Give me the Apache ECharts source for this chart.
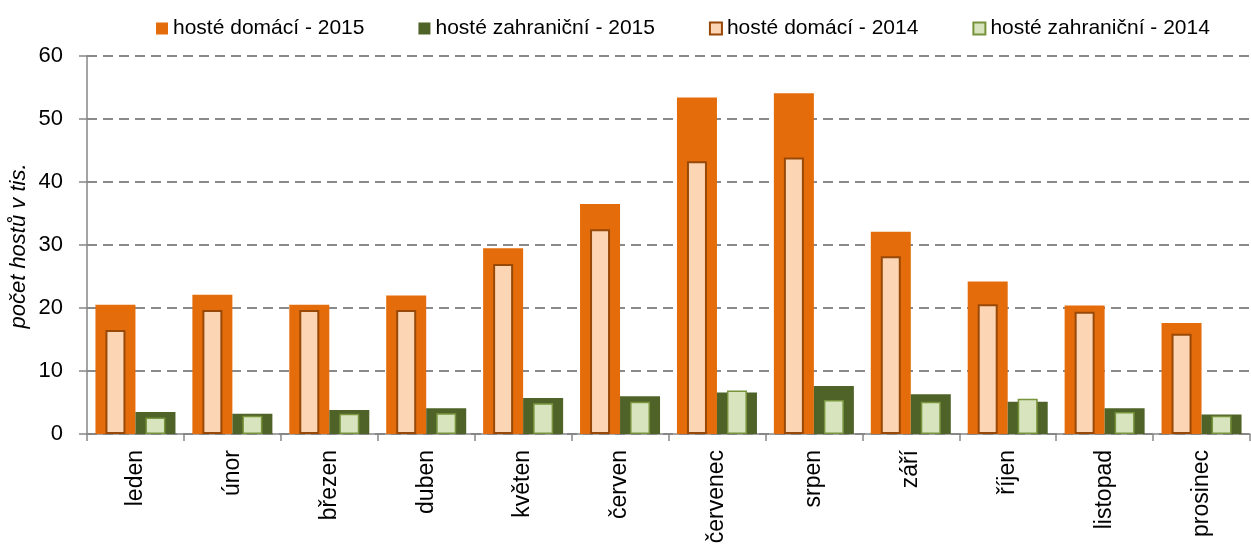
<!DOCTYPE html>
<html>
<head>
<meta charset="utf-8">
<script src="https://cdn.jsdelivr.net/npm/echarts@6/dist/echarts.min.js"></script>
<style>
  html, body { margin: 0; padding: 0; background: #fff; }
  #main { width: 1251px; height: 547px; }
</style>
</head>
<body>
<div id="main"></div>
<script>
// měsíce
var months = ['leden', 'únor', 'březen', 'duben', 'květen', 'červen',
  'červenec', 'srpen', 'září', 'říjen', 'listopad', 'prosinec'];

// počet hostů v tis.
var domestic2015 = [20.5, 22.1, 20.5, 22.0, 29.5, 36.5, 53.4, 54.1, 32.1, 24.2, 20.4, 17.6];
var foreign2015  = [3.5, 3.2, 3.8, 4.1, 5.7, 6.0, 6.6, 7.6, 6.3, 5.1, 4.1, 3.1];
var domestic2014 = [16.5, 19.7, 19.7, 19.7, 27.0, 32.5, 43.3, 43.9, 28.2, 20.6, 19.4, 15.9];
var foreign2014  = [2.6, 2.9, 3.2, 3.3, 4.9, 5.1, 6.9, 5.4, 5.1, 5.6, 3.5, 2.9];

var yTicks = [0, 10, 20, 30, 40, 50, 60];

var FONT = '"Liberation Sans", Arial, sans-serif';
var axisGray = '#868686';

var myChart = echarts.init(document.getElementById('main'));

myChart.setOption({
  animation: false,
  textStyle: { fontFamily: FONT },
  legend: {
    top: 13,
    left: 151,
    icon: 'rect',
    itemWidth: 12,
    itemHeight: 12,
    itemGap: 54,
    textStyle: { fontFamily: FONT, fontSize: 21, color: '#000' },
    data: ['hosté domácí - 2015', 'hosté zahraniční - 2015', 'hosté domácí - 2014', 'hosté zahraniční - 2014']
  },
  grid: { left: 87, right: 1, top: 56, bottom: 113, containLabel: false },
  xAxis: [{
    type: 'category',
    data: months,
    axisLine: { lineStyle: { color: axisGray, width: 1.5 } },
    axisTick: { show: true, length: 7, lineStyle: { color: axisGray, width: 1.5 } },
    axisLabel: { rotate: 90, margin: 16, fontFamily: FONT, fontSize: 23, color: '#000', interval: 0 }
  }, {
    type: 'category',
    data: months,
    show: false
  }],
  yAxis: {
    type: 'value',
    min: yTicks[0],
    max: yTicks[yTicks.length - 1],
    interval: 10,
    axisLine: { show: true, lineStyle: { color: axisGray, width: 1.5 } },
    axisTick: { show: true, length: 8, lineStyle: { color: axisGray, width: 1.5 } },
    axisLabel: { margin: 24, fontFamily: FONT, fontSize: 22, color: '#000' },
    splitLine: { lineStyle: { color: '#8a8a8a', width: 2, type: [10, 6] } }
  },
  graphic: [{
    type: 'text',
    x: 19,
    y: 246,
    rotation: Math.PI / 2,
    style: {
      text: 'počet hostů v tis.',
      font: 'italic 22px ' + FONT,
      fill: '#000',
      align: 'center',
      verticalAlign: 'middle'
    }
  }],
  series: [{
    name: 'hosté domácí - 2015',
    type: 'bar',
    xAxisIndex: 0,
    barWidth: 40,
    barGap: '0%',
    itemStyle: { color: '#E46C0A' },
    data: domestic2015
  }, {
    name: 'hosté zahraniční - 2015',
    type: 'bar',
    xAxisIndex: 0,
    barWidth: 40,
    barGap: '0%',
    itemStyle: { color: '#4F6228' },
    data: foreign2015
  }, {
    name: 'hosté domácí - 2014',
    type: 'bar',
    xAxisIndex: 1,
    barWidth: 20,
    barGap: '100%',
    itemStyle: { color: '#FCD5B5', borderColor: '#984807', borderWidth: 2 },
    data: domestic2014
  }, {
    name: 'hosté zahraniční - 2014',
    type: 'bar',
    xAxisIndex: 1,
    barWidth: 20,
    barGap: '100%',
    itemStyle: { color: '#D7E4BD', borderColor: '#77933C', borderWidth: 1.5 },
    data: foreign2014
  }]
});
</script>
</body>
</html>
